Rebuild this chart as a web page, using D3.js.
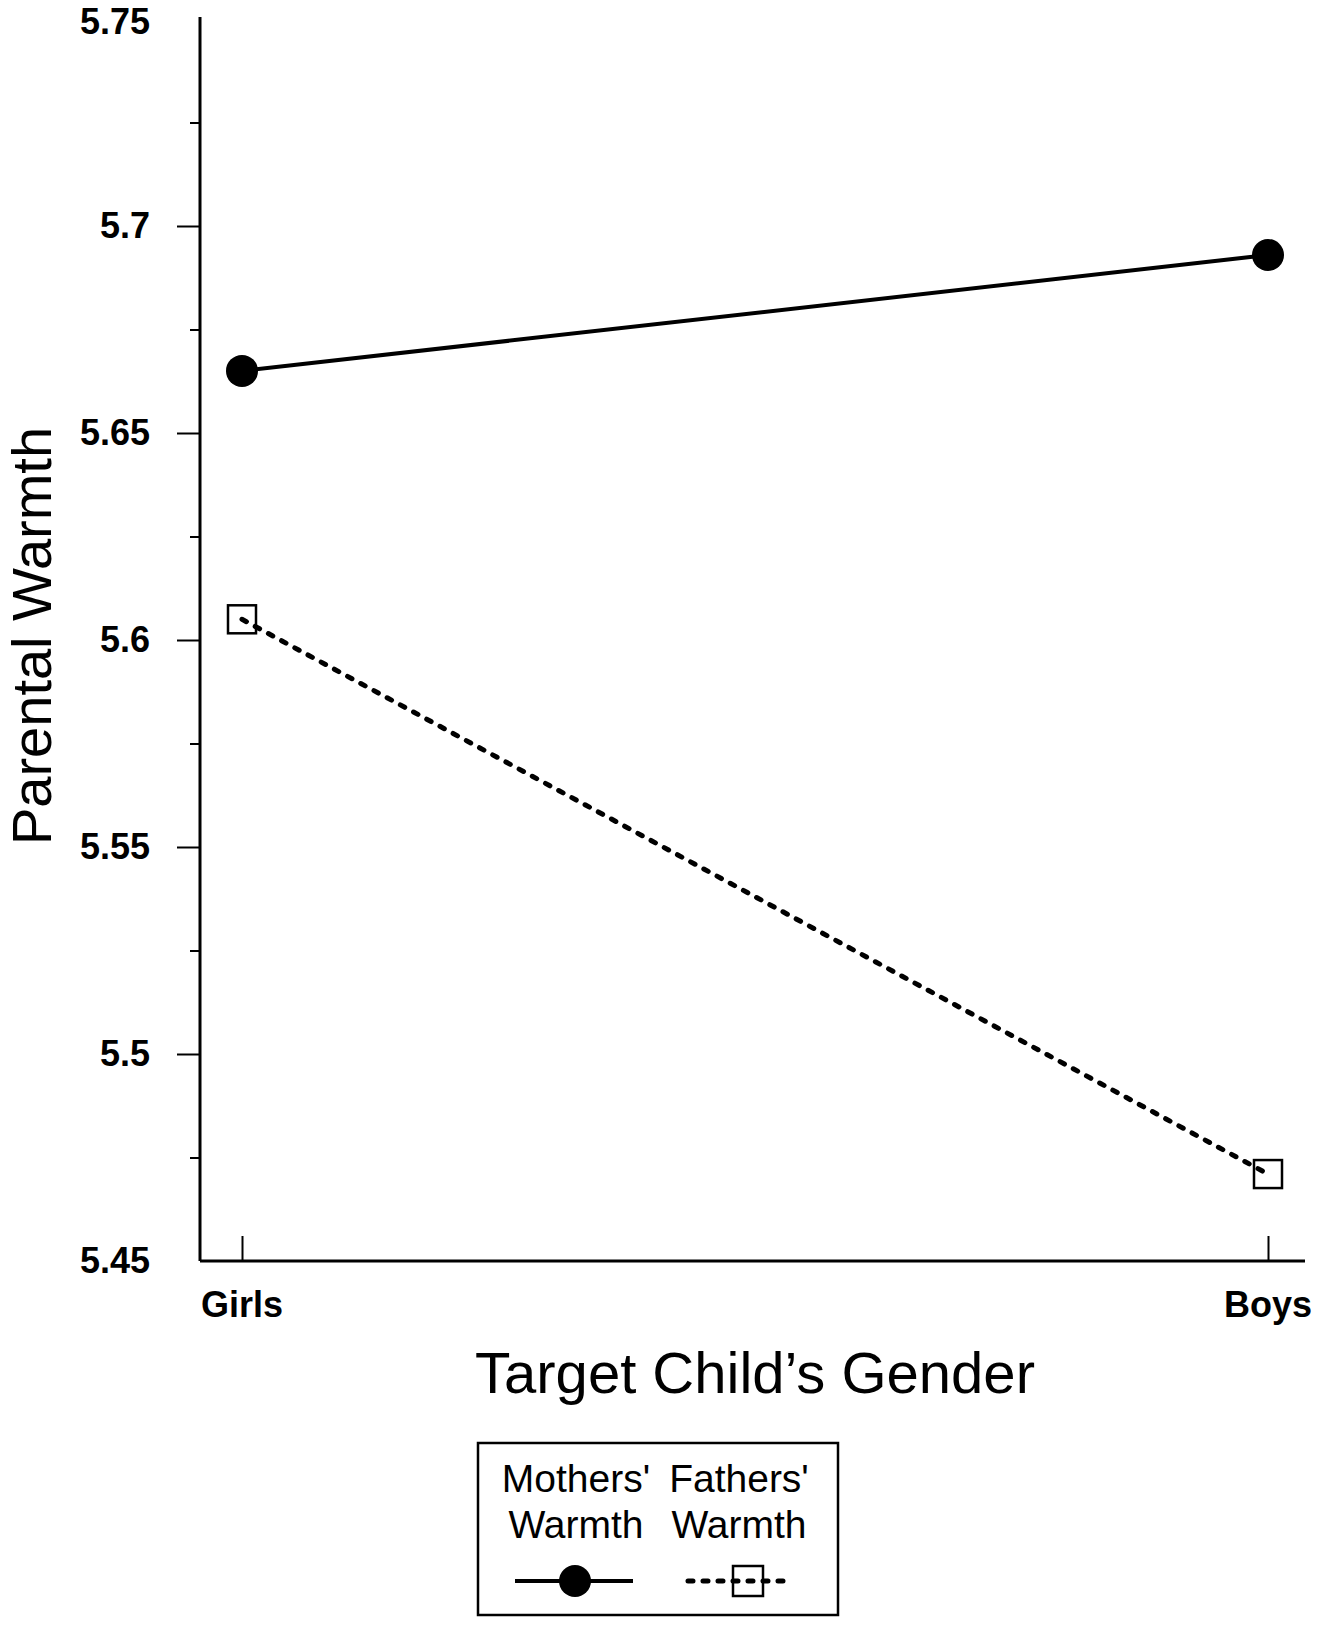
<!DOCTYPE html>
<html>
<head>
<meta charset="utf-8">
<script src="https://cdn.jsdelivr.net/npm/d3@7"></script>
<style>
  html, body { margin: 0; padding: 0; background: #fff; }
  svg { display: block; font-family: "Liberation Sans", Arial, Helvetica, sans-serif; }
  .axis path, .axis line { stroke: #000; }
</style>
</head>
<body>
<div id="chart"></div>
<script>
// Data
const GENDERS = ["Girls", "Boys"];
const MOTHERS = [5.665, 5.693];
const FATHERS = [5.605, 5.471];
const SERIES_NAMES = ["Mothers'", "Fathers'"];
const Y_MAJOR = [5.45, 5.5, 5.55, 5.6, 5.65, 5.7, 5.75];
const Y_MINOR = [5.475, 5.525, 5.575, 5.625, 5.675, 5.725];

(function () {
  const W = 1330, H = 1627;
  const svg = d3.select("#chart").append("svg")
    .attr("width", W).attr("height", H).attr("viewBox", `0 0 ${W} ${H}`);

  const AX = 200;            // y-axis x position
  const x = d3.scalePoint().domain(GENDERS).range([242, 1268]);
  const y = d3.scaleLinear().domain([5.45, 5.75]).range([1261, 19]);

  // Y axis: major ticks with labels, then minor ticks
  const yAx = svg.append("g").attr("class", "axis")
    .attr("transform", `translate(${AX},0)`)
    .call(d3.axisLeft(y).tickValues(Y_MAJOR).tickSize(23).tickSizeOuter(0).tickPadding(27)
      .tickFormat(d => d3.format("")(+d.toFixed(2))));
  yAx.select(".domain").attr("stroke-width", 3).attr("d", `M0,${y(5.75) - 2}V${y(5.45)}`);
  yAx.selectAll(".tick line").attr("stroke-width", 2);
  yAx.selectAll(".tick").filter(d => d === 5.45 || d === 5.75).select("line").remove();
  yAx.selectAll("text").attr("font-size", 36).attr("font-weight", "bold")
    .attr("fill", "#000").attr("font-family", "'Liberation Sans', Arial, sans-serif");
  // keep the top label inside the page
  yAx.selectAll(".tick").filter(d => d === 5.75).select("text").attr("dy", "0.4em");

  svg.append("g").attr("class", "axis")
    .attr("transform", `translate(${AX},0)`)
    .call(d3.axisLeft(y).tickValues(Y_MINOR).tickSize(10).tickFormat(""))
    .call(g => g.select(".domain").remove())
    .selectAll("line").attr("stroke-width", 2);

  // X axis: baseline with inward category ticks
  const xAx = svg.append("g").attr("class", "axis")
    .attr("transform", `translate(0,${y(5.45)})`)
    .call(d3.axisTop(x).tickSize(25).tickSizeOuter(0).tickFormat(""));
  xAx.select(".domain").attr("stroke-width", 3).attr("d", `M${AX},0H1305`);
  xAx.selectAll(".tick line").attr("stroke-width", 2);

  svg.append("g").selectAll("text").data(GENDERS).join("text")
    .attr("x", d => x(d)).attr("y", 1317)
    .attr("text-anchor", "middle").attr("font-size", 36).attr("font-weight", "bold")
    .text(d => d);

  // Axis titles
  svg.append("text")
    .attr("x", 755).attr("y", 1393).attr("text-anchor", "middle")
    .attr("font-size", 58).text("Target Child\u2019s Gender");
  svg.append("text")
    .attr("transform", "translate(51,636) rotate(-90)")
    .attr("text-anchor", "middle").attr("font-size", 56).text("Parental Warmth");

  const line = d3.line().x((d, i) => x(GENDERS[i])).y(d => y(d));

  // Fathers' warmth: dashed line, open squares
  svg.append("path").datum(FATHERS)
    .attr("fill", "none").attr("stroke", "#000").attr("stroke-width", 5)
    .attr("stroke-linecap", "round").attr("stroke-dasharray", "5,10")
    .attr("d", line);
  svg.append("g").selectAll("rect").data(FATHERS).join("rect")
    .attr("x", (d, i) => x(GENDERS[i]) - 14).attr("y", d => y(d) - 14)
    .attr("width", 28).attr("height", 28)
    .attr("fill", "none").attr("stroke", "#000").attr("stroke-width", 2.5);

  // Mothers' warmth: solid line, filled circles
  svg.append("path").datum(MOTHERS)
    .attr("fill", "none").attr("stroke", "#000").attr("stroke-width", 4)
    .attr("d", line);
  svg.append("g").selectAll("circle").data(MOTHERS).join("circle")
    .attr("cx", (d, i) => x(GENDERS[i])).attr("cy", d => y(d))
    .attr("r", 16).attr("fill", "#000");

  // Legend
  const lg = svg.append("g");
  lg.append("rect").attr("x", 478).attr("y", 1443).attr("width", 360).attr("height", 172)
    .attr("fill", "none").attr("stroke", "#000").attr("stroke-width", 2.5);
  const cols = [576, 739];
  SERIES_NAMES.forEach((name, i) => {
    const cx = cols[i];
    lg.append("text").attr("x", cx).attr("y", 1492).attr("text-anchor", "middle")
      .attr("font-size", 39).text(name);
    lg.append("text").attr("x", cx).attr("y", 1538).attr("text-anchor", "middle")
      .attr("font-size", 39).text("Warmth");
  });
  lg.append("line").attr("x1", 515).attr("x2", 633).attr("y1", 1581).attr("y2", 1581)
    .attr("stroke", "#000").attr("stroke-width", 4);
  lg.append("circle").attr("cx", cols[0] - 1).attr("cy", 1581).attr("r", 16).attr("fill", "#000");
  lg.append("line").attr("x1", 688).attr("x2", 788).attr("y1", 1581).attr("y2", 1581)
    .attr("stroke", "#000").attr("stroke-width", 5).attr("stroke-linecap", "round")
    .attr("stroke-dasharray", "5,10");
  lg.append("rect").attr("x", 733).attr("y", 1566).attr("width", 30).attr("height", 30)
    .attr("fill", "none").attr("stroke", "#000").attr("stroke-width", 2.5);
})();
</script>
</body>
</html>
